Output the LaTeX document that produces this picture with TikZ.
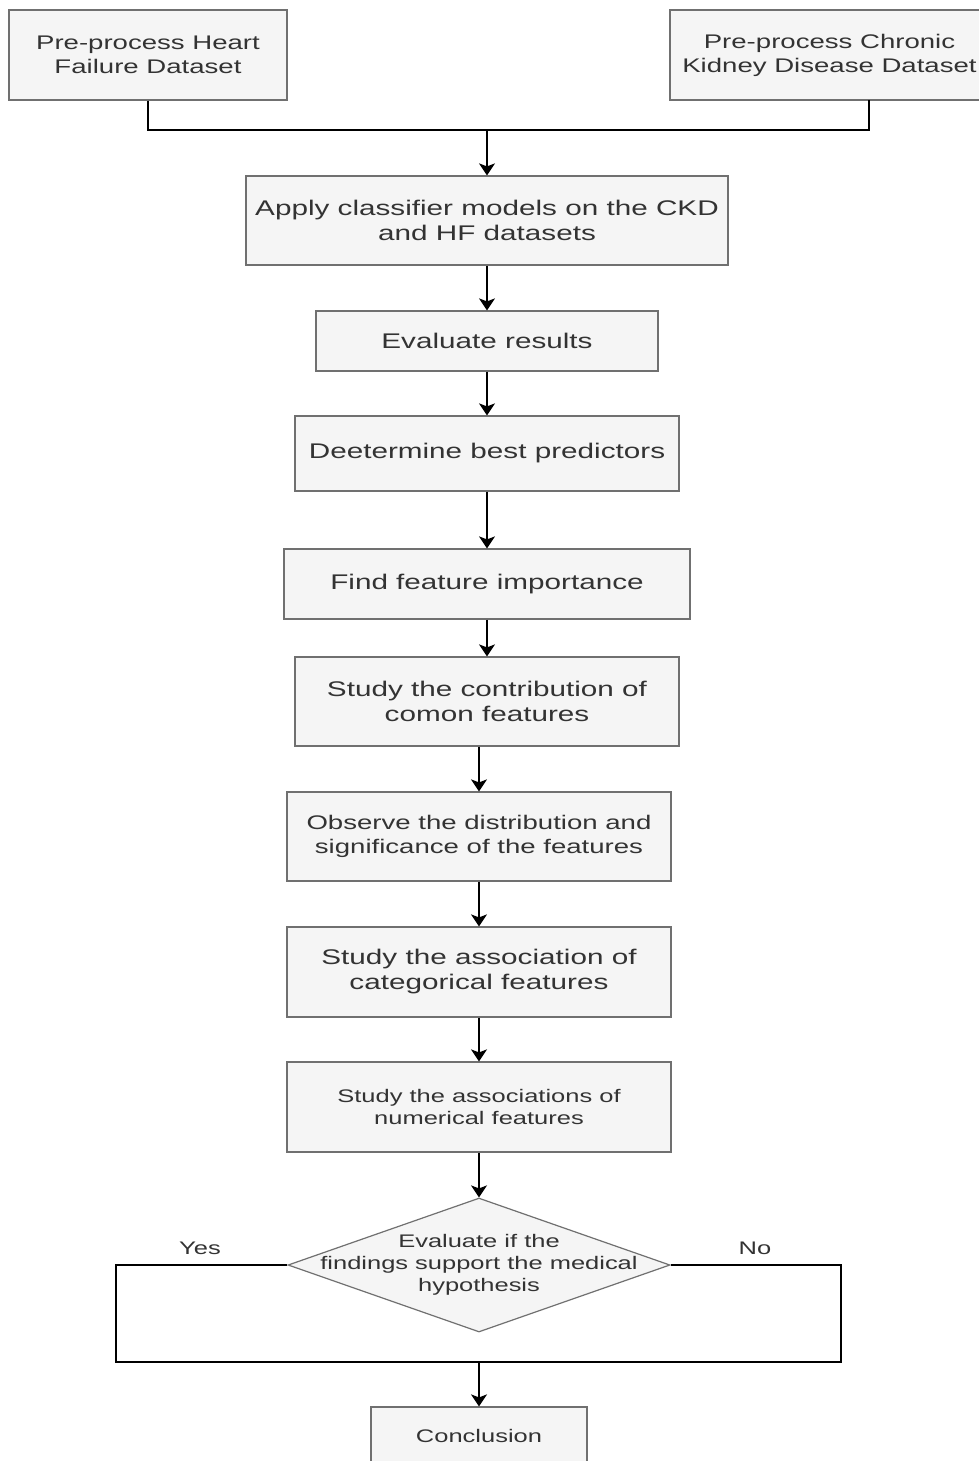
\documentclass[tikz,border=0pt]{standalone}
\usepackage{fontspec}
\setmainfont[FakeStretch=1.4]{Liberation Sans}
\usetikzlibrary{shapes.geometric,arrows.meta}
\definecolor{boxfill}{HTML}{F5F5F5}
\definecolor{boxline}{HTML}{707070}
\definecolor{txt}{HTML}{333333}
\newcommand{\fmain}{\fontsize{21.2}{25}\selectfont}
\newcommand{\fmed}{\fontsize{19.7}{24}\selectfont}
\newcommand{\fsmall}{\fontsize{18.2}{22}\selectfont}
\tikzset{
  procbox/.style={draw=boxline, fill=boxfill, line width=1.2pt, inner sep=0pt, align=center, text=txt, font=\fmain},
  medtext/.style={font=\fmed},
  smalltext/.style={font=\fsmall},
  conn/.style={draw=black, line width=1.5pt},
  arr/.style={conn, -{Stealth[length=12pt,width=16pt,inset=3pt]}},
  lbl/.style={text=txt, font=\fsmall, inner sep=0pt}
}
\begin{document}
\begin{tikzpicture}[x=1pt,y=-1pt]
\useasboundingbox (0,0) rectangle (979,1461);
\fill[white] (0,0) rectangle (979,1461);

\node[procbox, medtext, minimum width=278pt, minimum height=90pt] (hf) at (148,55) {Pre-process Heart\\Failure Dataset};
\node[procbox, medtext, minimum width=319pt, minimum height=90pt] (ckd) at (829.5,55) {Pre-process Chronic\\Kidney Disease Dataset};
\node[procbox, minimum width=482pt, minimum height=89pt] (apply) at (487,220.5) {Apply classifier models on the CKD\\and HF datasets};
\node[procbox, minimum width=342pt, minimum height=60pt] (eval) at (487,341) {Evaluate results};
\node[procbox, minimum width=384pt, minimum height=75pt] (det) at (487,453.5) {Deetermine best predictors};
\node[procbox, minimum width=406pt, minimum height=70pt] (find) at (487,584) {Find feature importance};
\node[procbox, minimum width=384pt, minimum height=89pt] (contrib) at (487,701.5) {Study the contribution of\\comon features};
\node[procbox, medtext, minimum width=384pt, minimum height=89pt] (obs) at (479,836.5) {Observe the distribution and\\significance of the features};
\node[procbox, minimum width=384pt, minimum height=90pt] (cat) at (479,972) {Study the association of\\categorical features};
\node[procbox, smalltext, minimum width=384pt, minimum height=90pt] (num) at (479,1107) {Study the associations of\\numerical features};
\node[diamond, draw=boxline, fill=boxfill, line width=1.2pt, inner sep=0pt, minimum width=382pt, minimum height=134pt] (dec) at (479,1265) {};
\node[lbl, align=center] (dectext) at (dec.center) {Evaluate if the\\findings support the medical\\hypothesis};
\node[procbox, smalltext, minimum width=216pt, minimum height=58pt] (concl) at (479,1436) {Conclusion};

\node[lbl] (yes) at (200,1248) {Yes};
\node[lbl] (no) at (755,1248) {No};

% merge of the two pre-process steps
\coordinate (ckdout) at (869,100);
\coordinate (joinL) at (148,130);
\coordinate (joinM) at (487,130);
\draw[conn] (hf.south) -- (joinL) -| (ckdout);
\draw[arr] (joinM) -- (apply.north);

\draw[arr] (apply) -- (eval);
\draw[arr] (eval) -- (det);
\draw[arr] (det) -- (find);
\draw[arr] (find) -- (contrib);
\draw[arr] (contrib.south -| obs.north) -- (obs.north);
\draw[arr] (obs) -- (cat);
\draw[arr] (cat) -- (num);
\draw[arr] (num) -- (dec.north);

% yes / no loop
\coordinate (loopL) at (116,1362);
\coordinate (loopR) at (841,1362);
\coordinate (loopM) at (479,1362);
\draw[conn] (dec.west) -| (loopL) -- (loopR) |- (dec.east);
\draw[arr] (loopM) -- (concl.north);
\end{tikzpicture}
\end{document}
